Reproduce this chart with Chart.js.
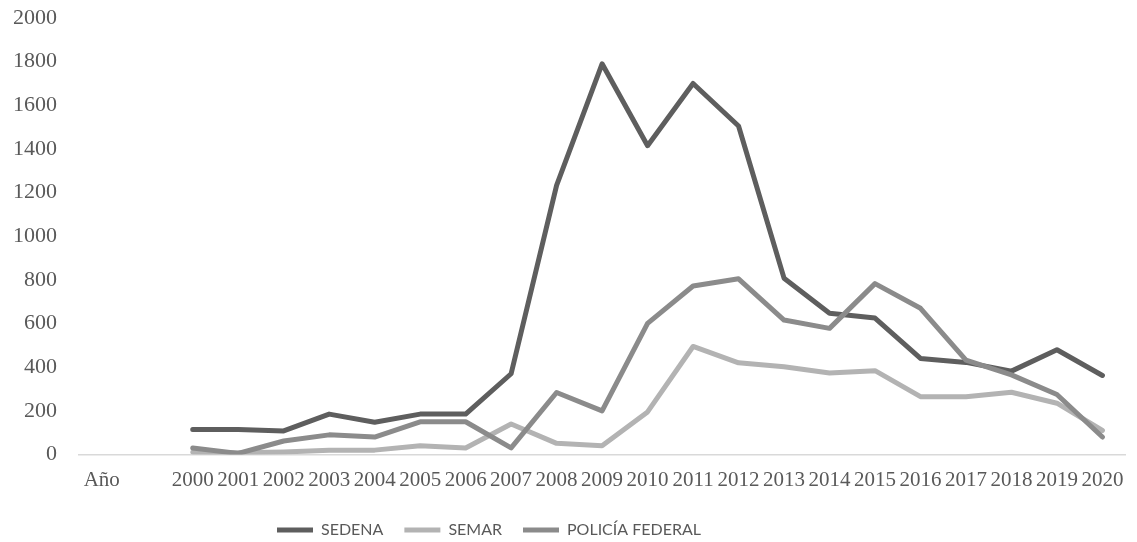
<!DOCTYPE html>
<html>
<head>
<meta charset="utf-8">
<script src="https://cdn.jsdelivr.net/npm/chart.js@4/dist/chart.umd.min.js"></script>
<style>
  html, body { margin: 0; padding: 0; background: #ffffff; }
  #wrap { width: 1137px; height: 542px; position: relative; }
</style>
</head>
<body>
<div id="wrap"><canvas id="chart"></canvas></div>
<script>
// Categories: the "Año" header, a blank slot, then the years
const categories = ['Año', '', '2000', '2001', '2002', '2003', '2004', '2005', '2006', '2007', '2008',
  '2009', '2010', '2011', '2012', '2013', '2014', '2015', '2016', '2017', '2018', '2019', '2020'];

const sedena = [null, null, 115, 115, 108, 185, 148, 185, 185, 370, 1233,
  1790, 1415, 1700, 1505, 808, 647, 625, 440, 422, 382, 480, 362];

const semar = [null, null, 10, 8, 12, 20, 20, 40, 30, 140, 51,
  40, 195, 495, 420, 402, 373, 384, 265, 265, 285, 235, 110];

const policiaFederal = [null, null, 30, 5, 62, 90, 80, 150, 150, 30, 284,
  200, 601, 772, 805, 616, 578, 783, 670, 432, 365, 275, 80];

const yTicks = [0, 200, 400, 600, 800, 1000, 1200, 1400, 1600, 1800, 2000];

const serif = "'Liberation Serif', 'Times New Roman', serif";
const labelGrey = '#595959';

// Places the legend row at a fixed left offset under the plot
const legendOffset = {
  id: 'legendOffset',
  afterLayout(chart) {
    const lg = chart.legend;
    if (lg) {
      const shift = 277 - lg.options.labels.padding - lg.left;
      lg.left += shift;
      lg.right += shift;
    }
  }
};

function series(label, data, color, order) {
  return {
    label, data, order,
    borderColor: color,
    backgroundColor: color,
    borderWidth: 5,
    borderCapStyle: 'round',
    borderJoinStyle: 'round',
    pointRadius: 0,
    pointHoverRadius: 0,
    pointStyle: 'line',
    tension: 0,
    fill: false
  };
}

new Chart(document.getElementById('chart'), {
  type: 'line',
  data: {
    labels: categories,
    datasets: [
      series('SEDENA', sedena, '#5e5e5e', 3),
      series('SEMAR', semar, '#b3b3b3', 2),
      series('POLICÍA FEDERAL', policiaFederal, '#8b8b8b', 1)
    ]
  },
  options: {
    responsive: true,
    maintainAspectRatio: false,
    animation: false,
    layout: { padding: { top: 18, left: 11, right: 3, bottom: -6 } },
    plugins: {
      tooltip: { enabled: false },
      legend: {
        position: 'bottom',
        align: 'start',
        labels: {
          sort: (a, b) => a.datasetIndex - b.datasetIndex,
          usePointStyle: true,
          pointStyleWidth: 36,
          boxHeight: 5,
          padding: 21,
          color: labelGrey,
          font: { family: "Lato, 'Open Sans', sans-serif", size: 16 }
        }
      }
    },
    scales: {
      x: {
        offset: true,
        grid: { display: false, drawTicks: false },
        border: { display: true, color: '#d9d9d9', width: 1.5 },
        ticks: {
          autoSkip: false,
          maxRotation: 0,
          minRotation: 0,
          padding: 13.5,
          color: labelGrey,
          font: { family: serif, size: 21 }
        },
        afterFit(axis) { axis.height = 46.5; }
      },
      y: {
        min: 0,
        max: 2000,
        grid: { display: false, drawTicks: false },
        border: { display: false },
        afterBuildTicks(axis) { axis.ticks = yTicks.map(v => ({ value: v })); },
        ticks: {
          padding: 22,
          color: labelGrey,
          font: { family: serif, size: 22 },
          callback: (v) => String(v)
        },
        afterFit(axis) {
          axis.width = 68;
          axis.paddingTop = 13;
          axis.paddingBottom = 13;
        }
      }
    }
  },
  plugins: [legendOffset]
});
</script>
</body>
</html>
